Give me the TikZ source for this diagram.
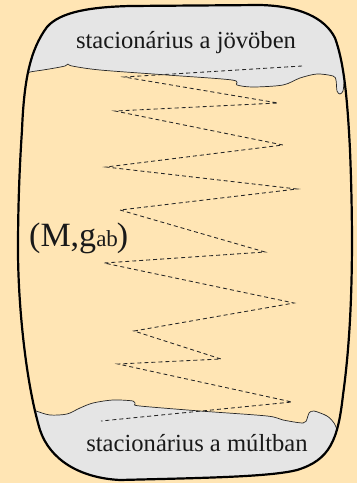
\documentclass[tikz,border=0pt]{standalone}
\usepackage{fontspec}
\setmainfont{Liberation Serif}
\definecolor{bgbeige}{RGB}{255,229,180}
\definecolor{capgrey}{RGB}{229,229,229}
\begin{document}
\begin{tikzpicture}[x=1pt,y=-1pt,
  border/.style={line width=2.2pt, line join=round},
  edgeline/.style={line width=0.7pt, black!85},
  zigzag/.style={line width=0.85pt, black!85, dash pattern=on 4pt off 3pt},
  caption/.style={font=\fontsize{24.6}{29}\selectfont, inner sep=0pt, anchor=base, text=black!90}]
\fill[bgbeige] (0,0) rectangle (357,483);
\useasboundingbox (0,0) rectangle (357,483);
\def\outerpath{(22,130) .. controls (24,80) and (30,50) .. (47,27) .. controls (60,12) and (90,7) .. (130,6) -- (260,5) .. controls (300,6) and (325,18) .. (335,38) .. controls (343,60) and (347,90) .. (350,150) .. controls (354,250) and (352,330) .. (343,395) .. controls (338,440) and (330,460) .. (297,470) .. controls (270,477) and (200,478) .. (120,480) .. controls (80,478) and (50,460) .. (40,430) .. controls (25,380) and (18,300) .. (18,250) .. controls (18,200) and (20,160) .. (22,130) -- cycle}
\begin{scope}
\clip \outerpath;
\fill[capgrey] plot[smooth, tension=0.5] coordinates {(20,74) (30,72) (43,70) (55,68) (65,66) (68,64) (72,66) (100,70) (167,75) (232,80) (237,85) (253,87) (283,85) (300,78) (317,74) (333,76) (336,80) (337,91) (340,94) (343,91) (344,82) (352,82)} -- (357,82) -- (357,0) -- (0,0) -- (0,74) -- cycle;
\fill[capgrey] plot[smooth, tension=0.5] coordinates {(20,410) (36,411) (50,415) (67,414) (80,408) (93,403) (113,400) (133,401) (135,404) (140,406) (200,411) (267,416) (283,420) (303,423) (307,419) (309,413) (314,411) (327,416) (334,423) (338,432) (345,440)} -- (357,440) -- (357,483) -- (0,483) -- (0,410) -- cycle;
\draw[edgeline] plot[smooth, tension=0.5] coordinates {(26,74) (30,72) (43,70) (55,68) (65,66) (68,64) (72,66) (100,70) (167,75) (232,80) (237,85) (253,87) (283,85) (300,78) (317,74) (333,76) (336,80) (337,91) (340,94) (343,91) (344,82)};
\draw[edgeline] plot[smooth, tension=0.5] coordinates {(34,410) (36,411) (50,415) (67,414) (80,408) (93,403) (113,400) (133,401) (135,404) (140,406) (200,411) (267,416) (283,420) (303,423) (307,419) (309,413) (314,411) (327,416) (334,423) (338,432)};
\end{scope}
\draw[border] \outerpath;
\coordinate (v1) at (302,66);
\coordinate (v2) at (124,77);
\coordinate (v3) at (278,103);
\coordinate (v4) at (115,111);
\coordinate (v5) at (283,145);
\coordinate (v6) at (106,167);
\coordinate (v7) at (297,189);
\coordinate (v8) at (120,210);
\coordinate (v9) at (265,252);
\coordinate (v10) at (104,263);
\coordinate (v11) at (294,303);
\coordinate (v12) at (134,331);
\coordinate (v13) at (221,359);
\coordinate (v14) at (118,364);
\coordinate (v15) at (292,402);
\coordinate (v16) at (101,421);
\draw[zigzag] (v1) -- (v2) -- (v3) -- (v4) -- (v5) -- (v6) -- (v7) -- (v8) -- (v9) -- (v10) -- (v11) -- (v12) -- (v13) -- (v14) -- (v15) -- (v16);
\node[caption] (top) at (186,48) {stacionárius a jövöben};
\node[caption] (bot) at (197,451) {stacionárius a múltban};
\node[inner sep=0pt, anchor=base west, text=black!90] (mg) at (29,246) {{\fontsize{34}{40}\selectfont (M,g}{\fontsize{23}{28}\selectfont ab}\kern-1pt{\fontsize{34}{40}\selectfont )}};
\end{tikzpicture}
\end{document}
